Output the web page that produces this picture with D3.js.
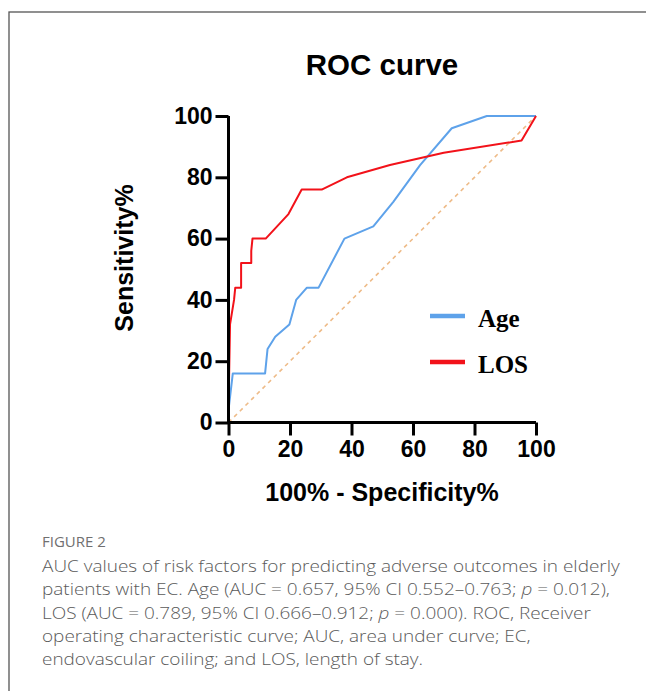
<!DOCTYPE html>
<html>
<head>
<meta charset="utf-8">
<script src="https://cdn.jsdelivr.net/npm/d3@7"></script>
<style>
  html, body { margin: 0; padding: 0; background: #fff; }
  svg { display: block; }
</style>
</head>
<body>
<svg id="chart" width="646" height="691"></svg>
<script>
// ---- data ----
const ageFPR  = [0, 0, 1.4, 11.9, 12.7, 15.2, 19.8, 22, 25.5, 29.3, 37.7, 47.1, 53.6, 62.3, 72.6, 84, 100];
const ageSens = [0, 4, 16, 16, 24, 28, 32, 40, 44, 44, 60, 64, 72, 84, 96, 100, 100];
const losFPR  = [0, 0, 0.5, 1.8, 2.2, 4.1, 4.1, 7.4, 7.4, 7.8, 12.1, 15.8, 19.5, 23.8, 30.3, 38.5, 52.5, 70, 95.3, 100];
const losSens = [0, 4, 32, 40, 44, 44, 52, 52, 56, 60, 60, 64, 68, 76, 76, 80, 84, 88, 92, 100];
const refLine = [0, 100];
const xTicks = [0, 20, 40, 60, 80, 100];
const yTicks = [0, 20, 40, 60, 80, 100];
const seriesNames = ["Age", "LOS"];
const seriesColors = ["#5ea2ea", "#f2121a"];
const captionLines = [
  [["AUC values of risk factors for predicting adverse outcomes in elderly", false]],
  [["patients with EC. Age (AUC = 0.657, 95% CI 0.552\u20130.763; ", false], ["p", true], [" = 0.012),", false]],
  [["LOS (AUC = 0.789, 95% CI 0.666\u20130.912; ", false], ["p", true], [" = 0.000). ROC, Receiver", false]],
  [["operating characteristic curve; AUC, area under curve; EC,", false]],
  [["endovascular coiling; and LOS, length of stay.", false]]
];

const svg = d3.select("#chart");

// frame
svg.append("rect").attr("x", 9).attr("y", 12).attr("width", 700).attr("height", 700)
  .attr("fill", "none").attr("stroke", "#555").attr("stroke-width", 1.3);

const x = d3.scaleLinear().domain([0, 100]).range([228.5, 536]);
const y = d3.scaleLinear().domain([0, 100]).range([422.5, 116]);

const g = svg.append("g");

// diagonal reference
g.append("path")
  .attr("d", d3.line()([[x(refLine[0]), y(refLine[0])], [x(refLine[1]), y(refLine[1])]]))
  .attr("fill", "none").attr("stroke", "#eebb88").attr("stroke-width", 1.6)
  .attr("stroke-dasharray", "4,4");

const line = d3.line().x(d => x(d[0])).y(d => y(d[1]));
const ageData = ageFPR.map((v, i) => [v, ageSens[i]]);
const losData = losFPR.map((v, i) => [v, losSens[i]]);

g.append("path").datum(ageData).attr("d", line)
  .attr("fill", "none").attr("stroke", seriesColors[0]).attr("stroke-width", 2)
  .attr("stroke-linejoin", "round");
g.append("path").datum(losData).attr("d", line)
  .attr("fill", "none").attr("stroke", seriesColors[1]).attr("stroke-width", 2)
  .attr("stroke-linejoin", "round");

// axes
const fontSans = "'Liberation Sans', Arial, sans-serif";
const xAxis = d3.axisBottom(x).tickValues(xTicks).tickSize(13).tickPadding(5).tickSizeOuter(0);
const yAxis = d3.axisLeft(y).tickValues(yTicks).tickSize(13).tickPadding(3).tickSizeOuter(0);

const gx = svg.append("g").attr("transform", `translate(0,${y(0)})`).call(xAxis);
const gy = svg.append("g").attr("transform", `translate(${x(0)},0)`).call(yAxis);
[gx, gy].forEach(a => {
  a.select(".domain").attr("stroke", "#000").attr("stroke-width", 3);
  a.selectAll(".tick line").attr("stroke", "#000").attr("stroke-width", 3);
  a.selectAll(".tick text").attr("fill", "#000")
    .style("font-family", fontSans).style("font-weight", "bold").style("font-size", "23px");
});
// make the corner close
gx.select(".domain").attr("d", `M${x(0) - 1.5},0H${x(100)}`);
gy.select(".domain").attr("d", `M0,${y(100)}V${y(0) + 1.5}`);

// title
svg.append("text").attr("x", 382).attr("y", 75).attr("text-anchor", "middle")
  .style("font-family", fontSans).style("font-weight", "bold").style("font-size", "29.5px")
  .text("ROC curve");

// axis titles
svg.append("text").attr("x", 382).attr("y", 501).attr("text-anchor", "middle")
  .style("font-family", fontSans).style("font-weight", "bold").style("font-size", "25px")
  .text("100% - Specificity%");
svg.append("text").attr("transform", "translate(133,258) rotate(-90)").attr("text-anchor", "middle")
  .style("font-family", fontSans).style("font-weight", "bold").style("font-size", "25px")
  .text("Sensitivity%");

// legend
const legend = svg.append("g");
seriesNames.forEach((name, i) => {
  const ly = 316 + i * 46;
  legend.append("line").attr("x1", 430).attr("x2", 465).attr("y1", ly).attr("y2", ly)
    .attr("stroke", seriesColors[i]).attr("stroke-width", 4.5);
  legend.append("text").attr("x", 478).attr("y", ly + 11)
    .style("font-family", "'Liberation Serif', 'Times New Roman', serif")
    .style("font-weight", "bold").style("font-size", "25px").text(name);
});

// caption
svg.append("text").attr("x", 42).attr("y", 547)
  .style("font-family", "'Open Sans', sans-serif").style("font-size", "15px")
  .style("font-weight", 500)
  .attr("fill", "#707070").text("FIGURE 2");

const lineGap = 23.3;
const cap = svg.append("g").style("font-family", "'Open Sans', sans-serif")
  .style("font-weight", 300).attr("fill", "#5a5a5a");
const fs = lineGap / 1.38;
const capTexts = captionLines.map((parts, i) => {
  const t = cap.append("text").attr("x", 0).attr("y", 0).style("font-size", fs + "px");
  parts.forEach(([s, it]) => {
    t.append("tspan").style("font-style", it ? "italic" : "normal").text(s);
  });
  return t;
});
const w0 = capTexts[0].node().getComputedTextLength();
const sx = 578 / w0;
capTexts.forEach((t, i) => t.attr("transform", `translate(42,${572 + i * lineGap}) scale(${sx},1)`));
</script>
</body>
</html>
